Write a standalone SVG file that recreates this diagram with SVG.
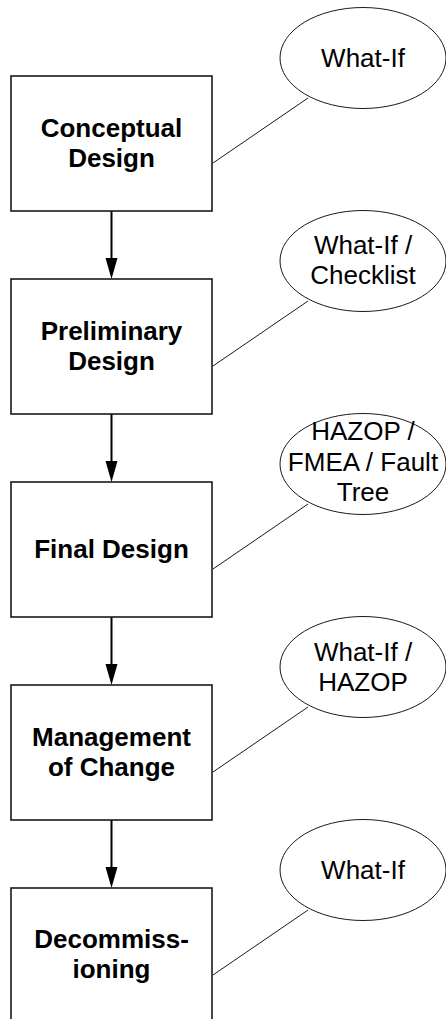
<svg xmlns="http://www.w3.org/2000/svg" width="446" height="1019" viewBox="0 0 446 1019">
<style>
.box{fill:#fff;stroke:#1a1a1a;stroke-width:1.6}
.ell{fill:#fff;stroke:#1a1a1a;stroke-width:1}
.bt{font-family:"Liberation Sans",Arial,sans-serif;font-size:26px;font-weight:bold;text-anchor:middle;fill:#000}
.et{font-family:"Liberation Sans",Arial,sans-serif;font-size:26px;text-anchor:middle;fill:#000}
.flow{stroke:#000;stroke-width:2;fill:none}
.link{stroke:#1a1a1a;stroke-width:1;fill:none}
.head{fill:#000}
</style>
<rect width="446" height="1019" fill="#fff"/>
<g id="connectors">
<line class="flow" x1="111.5" y1="211" x2="111.5" y2="259"/>
<polygon class="head" points="105.5,258 117.5,258 111.5,279"/>
<line class="flow" x1="111.5" y1="414" x2="111.5" y2="462"/>
<polygon class="head" points="105.5,461 117.5,461 111.5,482"/>
<line class="flow" x1="111.5" y1="617" x2="111.5" y2="665"/>
<polygon class="head" points="105.5,664 117.5,664 111.5,685"/>
<line class="flow" x1="111.5" y1="820" x2="111.5" y2="868"/>
<polygon class="head" points="105.5,867 117.5,867 111.5,888"/>
<line class="link" x1="213" y1="163" x2="308" y2="98"/>
<line class="link" x1="213" y1="366" x2="308" y2="301"/>
<line class="link" x1="213" y1="569" x2="308" y2="504"/>
<line class="link" x1="213" y1="772" x2="308" y2="707"/>
<line class="link" x1="213" y1="975" x2="308" y2="910"/>
</g>
<g id="n-conceptual">
<rect class="box" x="11" y="76" width="201" height="135"/>
<text class="bt" x="111.5" y="137">Conceptual</text>
<text class="bt" x="111.5" y="167">Design</text>
</g>
<g id="n-preliminary">
<rect class="box" x="11" y="279" width="201" height="135"/>
<text class="bt" x="111.5" y="340">Preliminary</text>
<text class="bt" x="111.5" y="370">Design</text>
</g>
<g id="n-final">
<rect class="box" x="11" y="482" width="201" height="135"/>
<text class="bt" x="111.5" y="558">Final Design</text>
</g>
<g id="n-moc">
<rect class="box" x="11" y="685" width="201" height="135"/>
<text class="bt" x="111.5" y="746">Management</text>
<text class="bt" x="111.5" y="776">of Change</text>
</g>
<g id="n-decom">
<rect class="box" x="11" y="888" width="201" height="135"/>
<text class="bt" x="111.5" y="948">Decommiss-</text>
<text class="bt" x="111.5" y="978">ioning</text>
</g>
<g id="e-1">
<ellipse class="ell" cx="363" cy="58" rx="83" ry="50.5"/>
<text class="et" x="363" y="67">What-If</text>
</g>
<g id="e-2">
<ellipse class="ell" cx="363" cy="261" rx="83" ry="50.5"/>
<text class="et" x="363" y="254">What-If /</text>
<text class="et" x="363" y="284">Checklist</text>
</g>
<g id="e-3">
<ellipse class="ell" cx="363" cy="464" rx="83" ry="50.5"/>
<text class="et" x="363" y="440">HAZOP /</text>
<text class="et" x="363" y="471">FMEA / Fault</text>
<text class="et" x="363" y="501">Tree</text>
</g>
<g id="e-4">
<ellipse class="ell" cx="363" cy="667" rx="83" ry="50.5"/>
<text class="et" x="363" y="661">What-If /</text>
<text class="et" x="363" y="691">HAZOP</text>
</g>
<g id="e-5">
<ellipse class="ell" cx="363" cy="870" rx="83" ry="50.5"/>
<text class="et" x="363" y="879">What-If</text>
</g>
</svg>
